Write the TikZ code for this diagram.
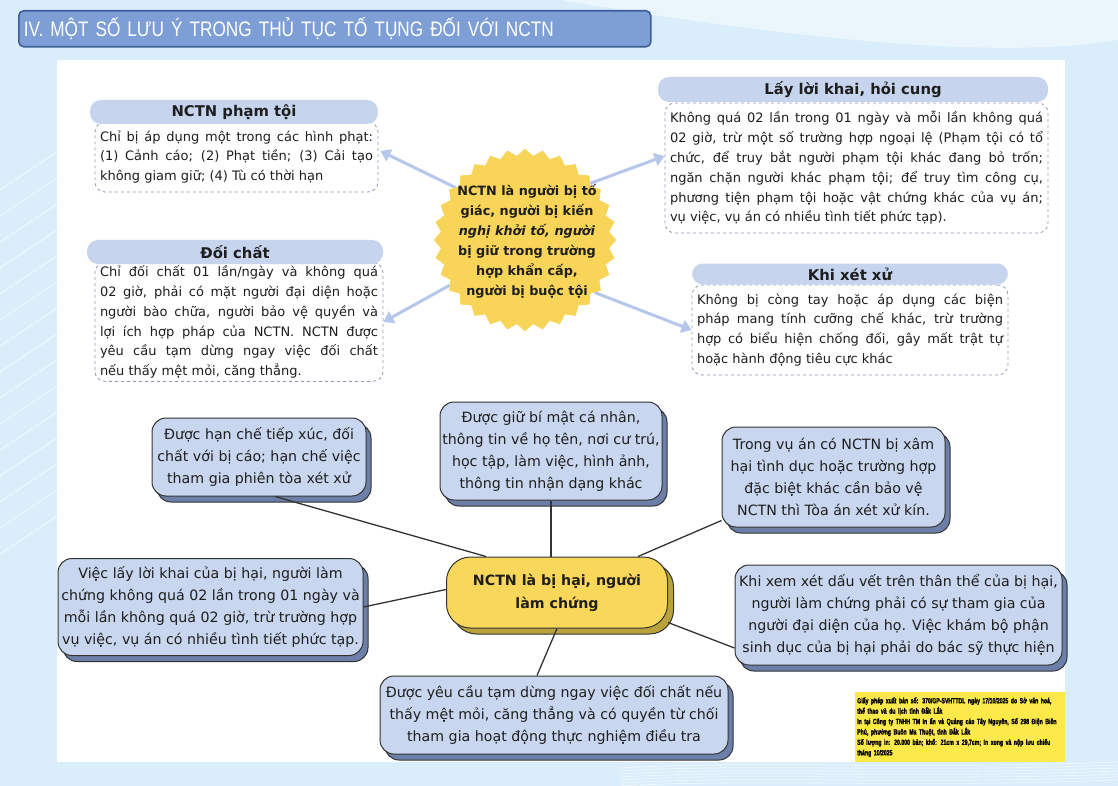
\documentclass[tikz,border=0pt]{standalone}
\usepackage{fontspec}
\setmainfont{DejaVu Sans}[BoldFont={DejaVu Sans Bold}, ItalicFont={DejaVu Sans Oblique}, BoldItalicFont={DejaVu Sans Bold Oblique}]
\newfontfamily\titlefont[FakeStretch=0.82]{Liberation Sans}
\newfontfamily\noticefont[FakeStretch=0.68, FakeBold=1.6]{Liberation Sans Bold}
\usetikzlibrary{shapes.geometric,arrows.meta,shadows}
\definecolor{bgblue}{HTML}{D9EDFA}
\definecolor{bgblue2}{HTML}{EAF5FC}
\definecolor{titlefill}{HTML}{7D9FD6}
\definecolor{titledraw}{HTML}{3E5F98}
\definecolor{headfill}{HTML}{C6D4EE}
\definecolor{dashcol}{HTML}{8F9AB8}
\definecolor{arrowblue}{HTML}{B5C8EC}
\definecolor{starfill}{HTML}{F8D558}
\definecolor{leaffill}{HTML}{C8D7EF}
\definecolor{leafshadow}{HTML}{6B7FA8}
\definecolor{linecol}{HTML}{333333}
\definecolor{cenfill}{HTML}{F8D75A}
\definecolor{censhadow}{HTML}{B9A23C}
\definecolor{noticefill}{HTML}{FDE94A}
\definecolor{textcol}{HTML}{1E1E1E}
\tikzset{
  headbox/.style={fill=headfill, rounded corners=11pt, inner sep=0pt,
    font=\fontsize{14.8}{18}\selectfont\bfseries, text=textcol},
  bodybox/.style={draw=dashcol, dashed, line width=0.8pt, rounded corners=10pt,
    fill=white, align=justify, inner xsep=5pt, inner ysep=3pt,
    font=\fontsize{13}{19.8}\selectfont, text=textcol},
  leafbox/.style={draw=linecol, line width=1pt, fill=leaffill, rounded corners=14pt,
    align=center, inner sep=2pt, font=\fontsize{14.2}{22}\selectfont, text=textcol,
    copy shadow={shadow xshift=5pt, shadow yshift=-6pt, fill=leafshadow, draw=linecol, line width=1pt}},
  cenbox/.style={draw=linecol, line width=1pt, fill=cenfill, rounded corners=24pt,
    align=center, inner sep=2pt, font=\fontsize{14.2}{23}\selectfont\bfseries, text=textcol,
    copy shadow={shadow xshift=6pt, shadow yshift=-6pt, fill=censhadow, draw=linecol, line width=1pt}},
  bluearrow/.style={draw=arrowblue, line width=3pt, -{Triangle[length=10pt,width=13pt]}},
  leafline/.style={draw=linecol, line width=1.3pt},
}
\begin{document}
\begin{tikzpicture}[x=1pt,y=-1pt]
% background
\useasboundingbox (0,0) rectangle (1118,786);
\fill[bgblue] (0,0) rectangle (1118,786);
\fill[bgblue2] (560,0) .. controls (800,40) and (1000,60) .. (1118,40) -- (1118,0) -- cycle;
\foreach \i in {0,...,14}{
  \draw[white, opacity=0.7, line width=0.8pt] (0,{190+\i*26}) -- (60,{150+\i*26});
}
\foreach \i in {0,...,6}{
  \draw[white, opacity=0.6, line width=0.8pt] (620,{768+\i*3}) .. controls (760,{760+\i*3}) and (900,{770+\i*3}) .. (1118,{762+\i*3});
}
\fill[white] (57,60) rectangle (1065,762);

% title
\node[draw=titledraw, fill=titlefill, rounded corners=5pt, line width=1.6pt,
  minimum width=632pt, minimum height=36pt, text width=622pt, align=left,
  inner xsep=5pt, anchor=north west, text=white,
  font=\titlefont\fontsize{21}{22}\selectfont] (title) at (18,10)
  {IV. MỘT SỐ LƯU Ý TRONG THỦ TỤC TỐ TỤNG ĐỐI VỚI NCTN};

% ---------- top section ----------
\node[bodybox, minimum width=283pt, minimum height=70pt, text width=273pt] (ptb) at (236.5,157)
  {Chỉ bị áp dụng một trong các hình phạt:\linebreak (1) Cảnh cáo; (2) Phạt tiền; (3) Cải tạo\linebreak không giam giữ; (4) Tù có thời hạn};
\node[headbox, minimum width=288pt, minimum height=24pt] (pth) at (234,112) {NCTN phạm tội};

\node[bodybox, minimum width=288pt, minimum height=118pt, text width=278pt] (dcb) at (239,322)
  {Chỉ đối chất 01 lần/ngày và không quá\linebreak 02 giờ, phải có mặt người đại diện hoặc\linebreak người bào chữa, người bảo vệ quyền và\linebreak lợi ích hợp pháp của NCTN. NCTN được\linebreak yêu cầu tạm dừng ngay việc đối chất\linebreak nếu thấy mệt mỏi, căng thẳng.};
\node[headbox, minimum width=296pt, minimum height=24pt] (dch) at (235,252) {Đối chất};

\node[bodybox, minimum width=383pt, minimum height=130pt, text width=373pt] (llb) at (856.5,168)
  {Không quá 02 lần trong 01 ngày và mỗi lần không quá\linebreak 02 giờ, trừ một số trường hợp ngoại lệ (Phạm tội có tổ\linebreak chức, để truy bắt người phạm tội khác đang bỏ trốn;\linebreak ngăn chặn người khác phạm tội; để truy tìm công cụ,\linebreak phương tiện phạm tội hoặc vật chứng khác của vụ án;\linebreak vụ việc, vụ án có nhiều tình tiết phức tạp).};
\node[headbox, minimum width=390pt, minimum height=25pt] (llh) at (853,89.5) {Lấy lời khai, hỏi cung};

\node[bodybox, minimum width=316pt, minimum height=90pt, text width=306pt] (kxb) at (850,330)
  {Không bị còng tay hoặc áp dụng các biện\linebreak pháp mang tính cưỡng chế khác, trừ trường\linebreak hợp có biểu hiện chống đối, gây mất trật tự\linebreak hoặc hành động tiêu cực khác};
\node[headbox, minimum width=316pt, minimum height=21pt] (kxh) at (850,274) {Khi xét xử};

% star
\coordinate (sc) at (525,240);
\node[star, star points=32, star point ratio=1.08, minimum size=182pt, inner sep=0pt,
  fill=starfill] (star) at (sc) {};
\draw[bluearrow] (star.143) -- ([xshift=2pt,yshift=6pt]ptb.east);
\draw[bluearrow] (star.211) -- (dcb.east);
\draw[bluearrow] (star.41) -- ([yshift=12pt]llb.west);
\draw[bluearrow] (star.-37) -- (kxb.west);
\node[star, star points=32, star point ratio=1.08, minimum size=182pt, inner sep=0pt,
  fill=starfill] (star2) at (sc) {};
\node[align=center, font=\fontsize{12.8}{20}\selectfont\bfseries, text=textcol] (startext) at (527,241)
  {NCTN là người bị tố\\ giác, người bị kiến\\ \textit{nghị khởi tố, người}\\ bị giữ trong trường\\ hợp khẩn cấp,\\ người bị buộc tội};

% ---------- bottom section ----------
\node[cenbox, minimum width=221pt, minimum height=71pt] (cen) at (557,592.5)
  {NCTN là bị hại, người\\ làm chứng};

\node[leafbox, minimum width=214pt, minimum height=78pt] (la) at (259,457)
  {Được hạn chế tiếp xúc, đối\\ chất với bị cáo; hạn chế việc\\ tham gia phiên tòa xét xử};
\node[leafbox, minimum width=222pt, minimum height=98pt] (lb) at (551,451)
  {Được giữ bí mật cá nhân,\\ thông tin về họ tên, nơi cư trú,\\ học tập, làm việc, hình ảnh,\\ thông tin nhận dạng khác};
\node[leafbox, minimum width=223pt, minimum height=100pt] (lc) at (833.5,477)
  {Trong vụ án có NCTN bị xâm\\ hại tình dục hoặc trường hợp\\ đặc biệt khác cần bảo vệ\\ NCTN thì Tòa án xét xử kín.};
\node[leafbox, minimum width=305pt, minimum height=97pt] (ld) at (210.5,607)
  {Việc lấy lời khai của bị hại, người làm\\ chứng không quá 02 lần trong 01 ngày và\\ mỗi lần không quá 02 giờ, trừ trường hợp\\ vụ việc, vụ án có nhiều tình tiết phức tạp.};
\node[leafbox, minimum width=327pt, minimum height=100pt] (le) at (898.5,615)
  {Khi xem xét dấu vết trên thân thể của bị hại,\\ người làm chứng phải có sự tham gia của\\ người đại diện của họ. Việc khám bộ phận\\ sinh dục của bị hại phải do bác sỹ thực hiện};
\node[leafbox, minimum width=348pt, minimum height=78pt] (lf) at (554,715)
  {Được yêu cầu tạm dừng ngay việc đối chất nếu\\ thấy mệt mỏi, căng thẳng và có quyền từ chối\\ tham gia hoạt động thực nghiệm điều tra};

\draw[leafline] ([xshift=16pt]la.south) -- ([xshift=40pt]cen.north west);
\draw[leafline] (lb.south) -- (lb.south |- cen.north);
\draw[leafline] ([yshift=7pt]lc.south west) -- ([xshift=-30pt]cen.north east);
\draw[leafline] (ld.east) -- ([yshift=3pt]cen.west);
\draw[leafline] ([yshift=-33pt]le.west) -- ([yshift=6pt]cen.south east);
\draw[leafline] ([xshift=-17pt]lf.north) -- (cen.south);

% notice
\node[fill=noticefill, minimum width=210pt, minimum height=70pt, anchor=north west,
  text width=206pt, align=left, inner xsep=2pt, inner ysep=2pt,
  font=\noticefont\fontsize{7.6}{10.4}\selectfont] (notice) at (855,692)
  {Giấy phép xuất bản số: 370/GP-SVHTTDL ngày 17/10/2025 do Sở văn hoá,\\
   thể thao và du lịch tỉnh Đắk Lắk\\
   In tại Công ty TNHH TM In ấn và Quảng cáo Tây Nguyên, Số 298 Điện Biên\\
   Phủ, phường Buôn Ma Thuột, tỉnh Đắk Lắk\\
   Số lượng in: 20.000 bản; khổ: 21cm x 29,7cm; In xong và nộp lưu chiểu\\
   tháng 10/2025};
\end{tikzpicture}
\end{document}
